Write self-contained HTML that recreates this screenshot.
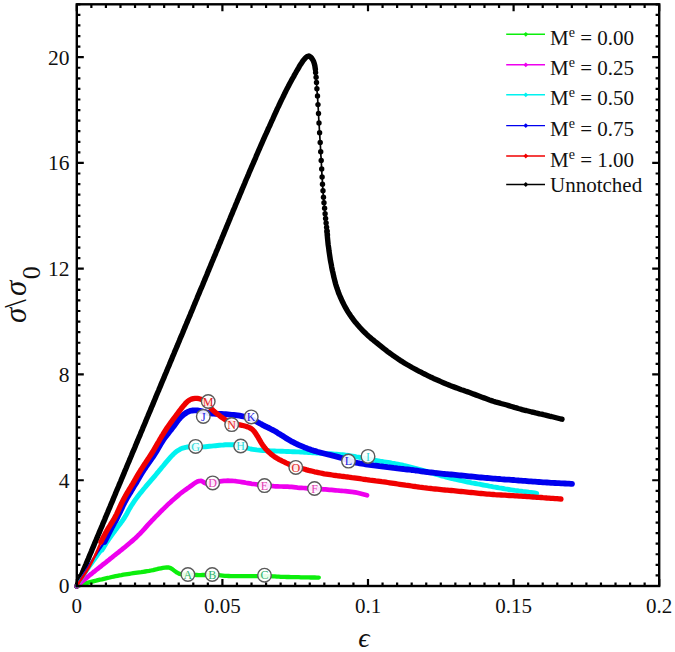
<!DOCTYPE html>
<html><head><meta charset="utf-8"><style>
html,body{margin:0;padding:0;background:#fff;}
body{width:675px;height:652px;overflow:hidden;font-family:"Liberation Serif",serif;}
svg{display:block;}
</style></head><body>
<svg width="675" height="652" viewBox="0 0 675 652">
<rect width="675" height="652" fill="#fff"/>
<path d="M76.8 586.2L77.6 584.4 78.3 582.5 79.1 580.7 79.9 578.8 80.7 577.0 81.4 575.1 82.2 573.3 83.0 571.4 83.7 569.6 84.5 567.7 85.3 565.9 86.1 564.0 86.8 562.2 87.6 560.3 88.4 558.5 89.1 556.7 89.9 554.8 90.7 553.0 91.5 551.1 92.2 549.3 93.0 547.4 93.8 545.6 94.5 543.7 95.3 541.9 96.1 540.0 96.9 538.2 97.6 536.3 98.4 534.5 99.2 532.7 99.9 530.8 100.7 529.0 101.5 527.1 102.3 525.3 103.0 523.4 103.8 521.6 104.6 519.7 105.3 517.9 106.1 516.0 106.9 514.2 107.7 512.3 108.4 510.5 109.2 508.6 110.0 506.8 110.7 505.0 111.5 503.1 112.3 501.3 113.1 499.4 113.8 497.6 114.6 495.7 115.4 493.9 116.1 492.0 116.9 490.2 117.7 488.3 118.5 486.5 119.2 484.6 120.0 482.8 120.8 481.0 121.5 479.1 122.3 477.3 123.1 475.4 123.9 473.6 124.6 471.7 125.4 469.9 126.2 468.0 126.9 466.2 127.7 464.3 128.5 462.5 129.3 460.6 130.0 458.8 130.8 457.0 131.6 455.1 132.3 453.3 133.1 451.4 133.9 449.6 134.7 447.7 135.4 445.9 136.2 444.0 137.0 442.2 137.7 440.3 138.5 438.5 139.3 436.6 140.1 434.8 140.8 432.9 141.6 431.1 142.4 429.3 143.1 427.4 143.9 425.6 144.7 423.7 145.5 421.9 146.2 420.0 147.0 418.2 147.8 416.3 148.5 414.5 149.3 412.6 150.1 410.8 150.9 408.9 151.6 407.1 152.4 405.3 153.2 403.4 153.9 401.6 154.7 399.7 155.5 397.9 156.2 396.0 157.0 394.2 157.8 392.3 158.6 390.5 159.3 388.6 160.1 386.8 160.9 384.9 161.6 383.1 162.4 381.2 163.2 379.4 164.0 377.6 164.7 375.7 165.5 373.9 166.3 372.0 167.0 370.2 167.8 368.3 168.6 366.5 169.4 364.6 170.1 362.8 170.9 360.9 171.7 359.1 172.4 357.2 173.2 355.4 174.0 353.5 174.7 351.7 175.5 349.9 176.3 348.0 177.1 346.2 177.8 344.3 178.6 342.5 179.4 340.6 180.1 338.8 180.9 336.9 181.7 335.1 182.5 333.2 183.2 331.4 184.0 329.5 184.8 327.7 185.5 325.8 186.3 324.0 187.1 322.2 187.8 320.3 188.6 318.5 189.4 316.6 190.2 314.8 190.9 312.9 191.7 311.1 192.5 309.2 193.2 307.4 194.0 305.5 194.8 303.7 195.5 301.8 196.3 300.0 197.1 298.1 197.8 296.3 198.6 294.4 199.4 292.6 200.1 290.7 200.9 288.9 201.7 287.1 202.5 285.2 203.2 283.4 204.0 281.5 204.8 279.7 205.5 277.8 206.3 276.0 207.1 274.1 207.8 272.3 208.6 270.4 209.3 268.6 210.1 266.7 210.9 264.9 211.6 263.0 212.4 261.2 213.2 259.3 213.9 257.5 214.7 255.6 215.5 253.8 216.2 251.9 217.0 250.1 217.8 248.2 218.5 246.4 219.3 244.5 220.1 242.7 220.8 240.8 221.6 239.0 222.3 237.1 223.1 235.3 223.9 233.4 224.6 231.6 225.4 229.7 226.2 227.9 226.9 226.0 227.7 224.2 228.5 222.3 229.2 220.5 230.0 218.6 230.7 216.8 231.5 214.9 232.3 213.1 233.0 211.2 233.8 209.4 234.6 207.5 235.3 205.7 236.1 203.8 236.9 202.0 237.6 200.1 238.4 198.3 239.2 196.4 239.9 194.6 240.7 192.8 241.5 190.9 242.2 189.1 243.0 187.2 243.8 185.4 244.6 183.5 245.3 181.7 246.1 179.8 246.9 178.0 247.7 176.1 248.5 174.3 249.2 172.5 250.0 170.6 250.8 168.8 251.6 166.9 252.4 165.1 253.2 163.3 254.0 161.4 254.8 159.6 255.6 157.8 256.3 155.9 257.1 154.1 257.9 152.2 258.7 150.4 259.5 148.6 260.3 146.7 261.1 144.9 261.9 143.1 262.7 141.2 263.5 139.4 264.3 137.6 265.1 135.7 266.0 133.9 266.8 132.1 267.6 130.3 268.4 128.4 269.3 126.6 270.1 124.8 270.9 123.0 271.7 121.2 272.6 119.3 273.4 117.5 274.2 115.7 275.0 113.9 275.9 112.0 276.7 110.2 277.5 108.4 278.4 106.6 279.2 104.8 280.1 103.0 280.9 101.2 281.8 99.4 282.7 97.6 283.6 95.8 284.4 94.0 285.3 92.2 286.2 90.4 287.1 88.6 288.1 86.8 289.0 85.0 289.9 83.3 290.9 81.5 291.8 79.8 292.8 78.0 293.8 76.3 294.7 74.5 295.7 72.8 296.7 71.0 297.7 69.3 298.7 67.6 299.7 65.8 300.8 64.1 301.9 62.5 303.0 60.8 304.3 59.3 305.6 57.8 307.1 56.5 308.8 56.0 310.4 56.8 311.7 58.2 312.8 59.9 313.7 61.7 314.3 63.6 314.8 65.5 315.1 67.5 315.4 69.5" fill="none" stroke="#000" stroke-width="5.4" stroke-linecap="round" stroke-linejoin="round" />
<path d="M315.4 69.5L315.5 71.5 315.7 73.5 315.9 75.5 316.1 77.5 316.3 79.5 316.4 81.5 316.6 83.5 316.7 85.5 316.8 87.5 317.0 89.6 317.1 91.6 317.3 93.6 317.5 95.6 317.6 97.6 317.7 99.6 317.8 101.6 317.9 103.6 318.1 105.6 318.2 107.6 318.3 109.6 318.4 111.6 318.5 113.6 318.6 115.7 318.7 117.7 318.8 119.7 318.9 121.7 319.0 123.7 319.2 125.7 319.3 127.7 319.4 129.7 319.5 131.7 319.7 133.7 319.8 135.7 319.9 137.7 320.0 139.8 320.2 141.8 320.3 143.8 320.4 145.8 320.5 147.8 320.6 149.8 320.7 151.8 320.8 153.8 320.9 155.8 321.1 157.8 321.2 159.8 321.3 161.9 321.4 163.9 321.5 165.9 321.6 167.9 321.7 169.9 321.8 171.9 321.9 173.9 322.0 175.9 322.1 177.9 322.3 179.9 322.4 181.9 322.5 183.9 322.6 186.0 322.8 188.0 322.9 190.0 323.1 192.0 323.2 194.0 323.4 196.0 323.6 198.0 323.7 200.0 323.9 202.0 324.1 204.0 324.4 206.0 324.6 208.0 324.8 210.0 324.9 212.0 325.1 214.0 325.3 216.0 325.6 218.0 325.8 220.0 326.0 222.0 326.2 224.0 326.5 226.0 326.7 228.0 326.9 230.0 327.1 232.0 327.4 234.0 327.5 235.0" fill="none" stroke="#000" stroke-width="1.7" stroke-linecap="round" stroke-linejoin="round" />
<circle cx="315.6" cy="72.6" r="2.7" fill="#000"/>
<circle cx="316.1" cy="77.2" r="2.7" fill="#000"/>
<circle cx="316.5" cy="82.5" r="2.7" fill="#000"/>
<circle cx="316.9" cy="88.7" r="2.7" fill="#000"/>
<circle cx="317.5" cy="96.0" r="2.7" fill="#000"/>
<circle cx="318.0" cy="104.6" r="2.7" fill="#000"/>
<circle cx="318.5" cy="113.4" r="2.7" fill="#000"/>
<circle cx="319.0" cy="123.0" r="2.7" fill="#000"/>
<circle cx="319.6" cy="132.7" r="2.7" fill="#000"/>
<circle cx="320.2" cy="142.5" r="2.7" fill="#000"/>
<circle cx="320.7" cy="151.7" r="2.7" fill="#000"/>
<circle cx="321.2" cy="160.4" r="2.7" fill="#000"/>
<circle cx="321.7" cy="169.0" r="2.7" fill="#000"/>
<circle cx="322.1" cy="177.0" r="2.7" fill="#000"/>
<circle cx="322.5" cy="184.3" r="2.7" fill="#000"/>
<circle cx="323.0" cy="190.8" r="2.7" fill="#000"/>
<circle cx="323.5" cy="197.2" r="2.7" fill="#000"/>
<circle cx="324.0" cy="202.7" r="2.7" fill="#000"/>
<circle cx="324.6" cy="208.3" r="2.7" fill="#000"/>
<circle cx="325.1" cy="213.8" r="2.7" fill="#000"/>
<circle cx="325.6" cy="218.4" r="2.7" fill="#000"/>
<circle cx="326.1" cy="223.0" r="2.7" fill="#000"/>
<circle cx="326.6" cy="227.2" r="2.7" fill="#000"/>
<circle cx="327.0" cy="231.0" r="2.7" fill="#000"/>
<circle cx="327.5" cy="235.0" r="2.7" fill="#000"/>
<path d="M327.0 231.0L327.1 233.0 327.3 235.0 327.4 237.0 327.6 239.0 327.8 241.0 328.0 243.0 328.2 244.9 328.5 246.9 328.8 248.9 329.0 250.9 329.3 252.9 329.6 254.9 329.9 256.8 330.2 258.8 330.5 260.8 330.9 262.8 331.3 264.7 331.6 266.7 332.0 268.6 332.4 270.6 332.9 272.6 333.3 274.5 333.7 276.5 334.2 278.4 334.7 280.4 335.2 282.3 335.7 284.2 336.3 286.1 336.9 288.0 337.6 289.9 338.2 291.8 338.9 293.7 339.7 295.5 340.5 297.4 341.3 299.2 342.1 301.0 343.0 302.8 343.9 304.6 344.8 306.4 345.8 308.1 346.8 309.9 347.8 311.6 348.9 313.3 350.0 314.9 351.1 316.6 352.3 318.2 353.5 319.8 354.7 321.4 356.0 322.9 357.3 324.5 358.6 326.0 359.9 327.5 361.3 329.0 362.6 330.4 364.0 331.8 365.5 333.2 366.9 334.6 368.4 336.0 369.9 337.3 371.4 338.6 373.0 339.8 374.5 341.1 376.1 342.3 377.7 343.6 379.2 344.8 380.8 346.1 382.3 347.3 383.9 348.6 385.5 349.8 387.0 351.1 388.6 352.3 390.3 353.5 391.9 354.6 393.5 355.8 395.2 356.9 396.8 358.1 398.5 359.2 400.1 360.3 401.8 361.3 403.5 362.4 405.2 363.5 406.9 364.5 408.7 365.5 410.4 366.5 412.1 367.5 413.9 368.5 415.6 369.4 417.4 370.4 419.2 371.3 421.0 372.2 422.7 373.1 424.5 374.0 426.3 374.9 428.1 375.8 429.9 376.7 431.7 377.5 433.5 378.4 435.4 379.2 437.2 380.0 439.0 380.8 440.8 381.6 442.7 382.4 444.5 383.2 446.4 384.0 448.2 384.7 450.1 385.5 451.9 386.2 453.8 386.9 455.7 387.6 457.6 388.3 459.4 389.0 461.3 389.7 463.2 390.3 465.1 391.0 467.0 391.6 468.9 392.3 470.8 393.0 472.6 393.7 474.5 394.4 476.4 395.1 478.2 395.8 480.1 396.5 482.0 397.2 483.9 397.9 485.7 398.6 487.6 399.3 489.5 400.0 491.4 400.6 493.3 401.3 495.2 401.9 497.1 402.4 499.1 402.9 501.0 403.5 502.9 404.0 504.9 404.5 506.8 405.0 508.7 405.6 510.6 406.2 512.5 406.8 514.4 407.4 516.4 407.9 518.3 408.5 520.2 409.0 522.1 409.6 524.1 410.1 526.0 410.5 528.0 411.0 529.9 411.5 531.8 412.0 533.8 412.4 535.7 412.9 537.7 413.3 539.6 413.8 541.6 414.2 543.5 414.7 545.5 415.1 547.4 415.6 549.4 416.1 551.3 416.5 553.3 417.0 555.2 417.5 557.1 418.0 559.1 418.5 561.0 419.0 562.0 419.2" fill="none" stroke="#000" stroke-width="5.4" stroke-linecap="round" stroke-linejoin="round" />
<path d="M76.8 586.2L78.7 585.6 80.6 584.9 82.5 584.3 84.4 583.7 86.3 583.1 88.3 582.6 90.2 582.1 92.1 581.6 94.1 581.1 96.0 580.7 98.0 580.2 99.9 579.7 101.9 579.3 103.8 578.8 105.8 578.3 107.7 577.9 109.7 577.5 111.6 577.0 113.6 576.6 115.5 576.2 117.5 575.8 119.5 575.4 121.5 575.1 123.4 574.7 125.4 574.4 127.4 574.1 129.4 573.8 131.3 573.5 133.3 573.2 135.3 572.9 137.3 572.6 139.3 572.3 141.2 572.1 143.2 571.8 145.2 571.5 147.2 571.2 149.2 570.9 151.1 570.5 153.1 570.1 155.0 569.6 157.0 569.2 158.9 568.7 160.9 568.3 162.9 567.9 164.8 567.6 166.8 567.4 168.8 567.5 170.6 568.1 172.3 569.1 173.9 570.4 175.5 571.6 177.1 572.7 178.9 573.6 180.8 574.2 182.7 574.5 184.7 574.6 186.7 574.6 188.7 574.6 190.7 574.7 192.7 574.8 194.7 574.9 196.7 575.0 198.7 575.1 200.7 575.1 202.7 575.0 204.7 575.0 206.8 574.9 208.8 574.8 210.8 574.8 212.8 574.8 214.8 574.9 216.8 575.1 218.7 575.2 220.7 575.4 222.7 575.6 224.7 575.8 226.7 575.9 228.7 576.0 230.7 576.1 232.7 576.2 234.7 576.2 236.7 576.2 238.7 576.2 240.7 576.2 242.7 576.2 244.7 576.2 246.7 576.2 248.7 576.2 250.7 576.1 252.8 576.1 254.8 576.1 256.8 576.1 258.8 576.0 260.8 576.0 262.8 576.0 264.8 576.0 266.8 576.1 268.8 576.1 270.8 576.2 272.8 576.3 274.8 576.4 276.8 576.6 278.8 576.7 280.8 576.8 282.8 576.8 284.8 576.9 286.8 577.0 288.8 577.0 290.8 577.1 292.8 577.1 294.8 577.2 296.8 577.2 298.8 577.2 300.8 577.3 302.8 577.3 304.8 577.4 306.8 577.4 308.8 577.4 310.8 577.5 312.8 577.5 314.8 577.5 316.8 577.6 318.8 577.6" fill="none" stroke="#0cee0c" stroke-width="4.3" stroke-linecap="round" stroke-linejoin="round" />
<path d="M76.8 586.2L78.3 584.9 79.8 583.6 81.3 582.3 82.8 580.9 84.4 579.6 85.9 578.3 87.4 577.1 89.0 575.8 90.5 574.5 92.1 573.3 93.6 572.0 95.2 570.8 96.8 569.5 98.3 568.3 99.9 567.0 101.5 565.8 103.0 564.5 104.6 563.3 106.2 562.1 107.7 560.8 109.3 559.6 110.8 558.3 112.4 557.1 114.0 555.8 115.5 554.6 117.1 553.3 118.7 552.1 120.2 550.8 121.8 549.6 123.3 548.3 124.9 547.1 126.5 545.8 128.0 544.5 129.5 543.2 131.1 541.9 132.6 540.6 134.1 539.3 135.6 538.0 137.0 536.6 138.4 535.2 139.8 533.8 141.2 532.3 142.6 530.9 144.0 529.4 145.3 527.9 146.6 526.4 147.9 524.9 149.3 523.4 150.7 522.0 152.0 520.5 153.4 519.1 154.8 517.6 156.2 516.2 157.6 514.8 159.0 513.4 160.4 511.9 161.8 510.5 163.2 509.1 164.7 507.7 166.1 506.3 167.5 504.9 169.0 503.5 170.5 502.2 172.0 500.8 173.5 499.5 175.0 498.2 176.5 496.9 178.0 495.6 179.5 494.3 181.1 493.0 182.6 491.8 184.3 490.6 185.9 489.5 187.5 488.3 189.2 487.2 190.8 486.0 192.4 484.8 194.0 483.6 195.7 482.5 197.4 481.6 199.3 481.0 201.2 480.9 202.9 481.7 204.5 482.8 206.3 483.5 208.2 483.6 210.2 483.2 212.1 482.8 214.0 482.3 216.0 482.0 218.0 481.6 220.0 481.3 221.9 481.1 223.9 480.9 225.9 480.8 227.9 480.7 229.9 480.8 231.9 480.8 233.9 481.0 235.9 481.2 237.9 481.5 239.9 481.8 241.9 482.1 243.8 482.4 245.8 482.8 247.8 483.1 249.7 483.4 251.7 483.8 253.7 484.0 255.7 484.3 257.7 484.6 259.6 484.8 261.6 485.1 263.6 485.3 265.6 485.5 267.6 485.7 269.6 485.9 271.6 486.0 273.6 486.2 275.6 486.3 277.6 486.4 279.6 486.5 281.6 486.5 283.6 486.6 285.6 486.6 287.6 486.7 289.6 486.8 291.6 486.9 293.6 487.1 295.6 487.3 297.5 487.6 299.5 487.8 301.5 487.9 303.5 488.0 305.5 488.1 307.5 488.3 309.5 488.4 311.5 488.5 313.5 488.6 315.5 488.7 317.5 488.9 319.5 489.0 321.5 489.1 323.5 489.3 325.5 489.4 327.5 489.6 329.5 489.8 331.5 489.9 333.5 490.1 335.5 490.3 337.5 490.5 339.4 490.7 341.4 490.8 343.4 491.0 345.4 491.2 347.4 491.4 349.4 491.6 351.4 491.8 353.4 492.1 355.4 492.4 357.3 492.8 359.3 493.3 361.2 493.8 363.1 494.3 365.1 494.8 367.0 495.3" fill="none" stroke="#ee00ee" stroke-width="4.7" stroke-linecap="round" stroke-linejoin="round" />
<path d="M76.8 586.2L77.9 584.5 79.0 582.8 80.1 581.2 81.2 579.5 82.3 577.8 83.4 576.1 84.5 574.5 85.6 572.8 86.8 571.2 87.9 569.5 89.1 567.9 90.2 566.2 91.4 564.6 92.5 563.0 93.7 561.3 94.9 559.7 96.1 558.1 97.2 556.5 98.4 554.8 99.6 553.2 100.8 551.6 102.0 550.0" fill="none" stroke="#00f2f0" stroke-width="3.4" stroke-linecap="round" stroke-linejoin="round" />
<path d="M102.0 550.0L103.0 548.3 104.1 546.6 105.1 544.9 106.1 543.2 107.2 541.5 108.4 539.8 109.5 538.2 110.7 536.6 111.9 534.9 113.0 533.3 114.2 531.7 115.4 530.1 116.6 528.5 117.8 526.9 119.0 525.3 120.2 523.7 121.4 522.1 122.6 520.5 123.7 518.8 124.8 517.1 125.8 515.4 126.8 513.7 127.8 511.9 128.7 510.2 129.7 508.4 130.7 506.7 131.8 505.0 132.9 503.3 134.0 501.7 135.1 500.0 136.3 498.4 137.5 496.8 138.7 495.2 139.9 493.6 141.2 492.1 142.5 490.5 143.7 489.0 145.0 487.5 146.3 485.9 147.6 484.4 148.9 482.9 150.2 481.4 151.5 479.8 152.8 478.3 154.1 476.8 155.4 475.3 156.7 473.7 158.0 472.2 159.2 470.6 160.5 469.1 161.8 467.5 163.1 466.0 164.3 464.5 165.6 462.9 166.9 461.4 168.2 459.9 169.5 458.4 170.8 456.9 172.2 455.4 173.6 454.0 175.1 452.7 176.6 451.4 178.3 450.3 180.0 449.3 181.8 448.4 183.7 447.8 185.6 447.3 187.5 447.0 189.5 446.8 191.5 446.8 193.5 446.8 195.5 446.8 197.5 446.9 199.5 446.9 201.5 446.9 203.5 446.9 205.5 446.7 207.5 446.5 209.5 446.3 211.5 446.1 213.5 445.9 215.5 445.7 217.4 445.5 219.4 445.3 221.4 445.1 223.4 445.0 225.4 444.8 227.4 444.7 229.4 444.7 231.4 444.7 233.4 444.7 235.4 444.9 237.4 445.1 239.4 445.4 241.3 445.9 243.2 446.5 245.0 447.2 246.9 447.9 248.8 448.5 250.7 449.0 252.7 449.3 254.7 449.6 256.7 449.9 258.7 450.1 260.6 450.3 262.6 450.5 264.6 450.6 266.6 450.7 268.6 450.8 270.6 450.9 272.6 450.9 274.6 451.0 276.6 451.1 278.6 451.1 280.6 451.2 282.6 451.3 284.6 451.4 286.6 451.5 288.6 451.5 290.6 451.6 292.6 451.7 294.6 451.8 296.6 451.9 298.6 451.9 300.6 452.0 302.6 452.1 304.6 452.3 306.6 452.4 308.6 452.5 310.6 452.6 312.6 452.7 314.6 452.9 316.6 453.0 318.6 453.1 320.6 453.2 322.6 453.4 324.6 453.5 326.6 453.6 328.6 453.7 330.6 453.8 332.6 453.9 334.6 454.1 336.6 454.2 338.6 454.4 340.6 454.6 342.6 454.8 344.6 455.0 346.5 455.3 348.5 455.5 350.5 455.8 352.5 456.1 354.5 456.4 356.4 456.8 358.4 457.1 360.4 457.5 362.3 457.8 364.3 458.2 366.3 458.6 368.2 459.0 370.2 459.4 372.2 459.8 374.1 460.1 376.1 460.5 378.1 460.8 380.0 461.2 382.0 461.5 384.0 461.8 386.0 462.1 388.0 462.4 389.9 462.7 391.9 463.1 393.9 463.4 395.8 463.8 397.8 464.2 399.8 464.6 401.7 465.0 403.7 465.5 405.6 465.9 407.6 466.4 409.5 466.9 411.4 467.4 413.4 467.9 415.3 468.4 417.3 468.9 419.2 469.4 421.1 469.9 423.0 470.5 425.0 471.0 426.9 471.5 428.8 472.1 430.7 472.7 432.7 473.2 434.6 473.8 436.5 474.4 438.4 474.9 440.3 475.5 442.3 476.0 444.2 476.5 446.1 477.1 448.1 477.6 450.0 478.0 452.0 478.5 453.9 479.0 455.9 479.4 457.8 479.9 459.8 480.3 461.7 480.7 463.7 481.2 465.6 481.6 467.6 482.0 469.6 482.4 471.5 482.8 473.5 483.1 475.4 483.5 477.4 483.9 479.4 484.2 481.4 484.6 483.3 485.0 485.3 485.3 487.3 485.7 489.2 486.1 491.2 486.4 493.2 486.8 495.1 487.1 497.1 487.5 499.1 487.9 501.0 488.2 503.0 488.5 505.0 488.9 507.0 489.2 508.9 489.5 510.9 489.8 512.9 490.1 514.9 490.4 516.9 490.6 518.8 490.9 520.8 491.1 522.8 491.4 524.8 491.6 526.8 491.9 528.8 492.2 530.8 492.4 532.7 492.7 534.7 493.0 536.7 493.3" fill="none" stroke="#00f2f0" stroke-width="4.9" stroke-linecap="round" stroke-linejoin="round" />
<path d="M76.8 586.2L77.8 584.5 78.8 582.7 79.9 581.0 80.9 579.3 81.9 577.5 82.9 575.8 83.9 574.1 84.9 572.4 86.0 570.6 87.0 568.9 88.0 567.2 89.1 565.5 90.1 563.8 91.2 562.1 92.3 560.4 93.4 558.7 94.5 557.0 95.6 555.4 96.7 553.7 97.8 552.0 98.9 550.3 100.0 548.7 101.2 547.0 102.3 545.3 103.4 543.7 104.5 542.0" fill="none" stroke="#0000ee" stroke-width="2.2" stroke-linecap="round" stroke-linejoin="round" />
<path d="M104.5 542.0L105.4 540.2 106.3 538.4 107.2 536.6 108.1 534.8 109.0 533.0 109.9 531.2 110.8 529.5 111.7 527.7 112.7 525.9 113.6 524.2 114.6 522.4 115.6 520.7 116.5 518.9 117.4 517.1 118.3 515.3 119.2 513.5 120.1 511.7 120.9 509.9 121.8 508.1 122.6 506.3 123.5 504.5 124.4 502.7 125.4 500.9 126.3 499.2 127.3 497.4 128.3 495.7 129.3 494.0 130.4 492.3 131.4 490.5 132.5 488.8 133.5 487.1 134.5 485.4 135.6 483.7 136.6 482.0 137.6 480.2 138.6 478.5 139.6 476.8 140.6 475.1 141.7 473.3 142.7 471.6 143.8 469.9 144.9 468.3 146.0 466.6 147.2 465.0 148.3 463.3 149.5 461.7 150.6 460.1 151.8 458.4 152.9 456.8 154.0 455.1 155.1 453.4 156.2 451.7 157.2 450.0 158.2 448.3 159.2 446.6 160.2 444.8 161.2 443.1 162.3 441.4 163.4 439.7 164.5 438.1 165.7 436.5 166.9 434.9 168.2 433.3 169.4 431.7 170.7 430.2 171.9 428.6 173.1 427.0 174.3 425.4 175.5 423.8 176.7 422.1 177.9 420.5 179.1 419.0 180.4 417.5 181.9 416.1 183.4 414.8 185.0 413.6 186.6 412.5 188.4 411.6 190.2 410.9 192.2 410.5 194.1 410.3 196.1 410.3 198.1 410.5 200.0 410.9 202.0 411.3 203.9 411.9 205.8 412.4 207.8 412.8 209.7 413.2 211.7 413.5 213.7 413.7 215.7 413.9 217.7 413.9 219.7 414.0 221.7 414.0 223.7 414.1 225.7 414.2 227.7 414.4 229.7 414.6 231.7 414.8 233.7 415.0 235.7 415.2 237.6 415.4 239.6 415.7 241.6 416.1 243.6 416.5 245.5 416.9 247.4 417.4 249.3 418.0 251.2 418.8 253.0 419.6 254.8 420.5 256.5 421.5 258.2 422.5 260.0 423.5 261.8 424.4 263.5 425.4 265.3 426.3 267.1 427.2 268.9 428.0 270.7 429.0 272.5 429.9 274.2 430.8 276.0 431.8 277.7 432.9 279.4 433.9 281.1 435.0 282.8 436.0 284.5 437.1 286.2 438.2 287.9 439.3 289.6 440.3 291.3 441.3 293.1 442.2 294.9 443.1 296.7 444.0 298.5 444.8 300.3 445.6 302.2 446.4 304.0 447.2 305.9 447.9 307.7 448.7 309.6 449.3 311.5 450.0 313.4 450.6 315.4 451.1 317.3 451.7 319.2 452.2 321.2 452.7 323.1 453.2 325.0 453.7 327.0 454.2 328.9 454.7 330.9 455.1 332.8 455.6 334.8 456.1 336.7 456.6 338.6 457.1 340.6 457.7 342.5 458.3 344.3 459.0 346.2 459.6 348.1 460.3 350.0 461.0 351.9 461.6 353.8 462.1 355.8 462.6 357.7 463.0 359.7 463.4 361.7 463.7 363.7 464.0 365.6 464.3 367.6 464.6 369.6 464.8 371.6 465.1 373.6 465.4 375.6 465.6 377.6 465.9 379.5 466.2 381.5 466.4 383.5 466.7 385.5 466.9 387.5 467.2 389.5 467.4 391.5 467.6 393.5 467.9 395.5 468.1 397.4 468.4 399.4 468.6 401.4 468.8 403.4 469.0 405.4 469.3 407.4 469.5 409.4 469.7 411.4 470.0 413.4 470.2 415.3 470.5 417.3 470.7 419.3 471.0 421.3 471.3 423.3 471.5 425.3 471.8 427.3 472.0 429.3 472.3 431.2 472.5 433.2 472.7 435.2 473.0 437.2 473.2 439.2 473.4 441.2 473.6 443.2 473.8 445.2 474.0 447.2 474.1 449.2 474.3 451.2 474.5 453.2 474.7 455.2 474.9 457.2 475.1 459.2 475.3 461.1 475.5 463.1 475.7 465.1 475.9 467.1 476.1 469.1 476.3 471.1 476.5 473.1 476.7 475.1 476.9 477.1 477.1 479.1 477.3 481.1 477.5 483.1 477.7 485.1 477.9 487.1 478.0 489.1 478.2 491.1 478.4 493.1 478.6 495.1 478.7 497.0 478.9 499.0 479.0 501.0 479.2 503.0 479.3 505.0 479.5 507.0 479.6 509.0 479.7 511.0 479.9 513.0 480.0 515.0 480.2 517.0 480.3 519.0 480.5 521.0 480.6 523.0 480.8 525.0 480.9 527.0 481.1 529.0 481.3 531.0 481.4 533.0 481.6 535.0 481.7 537.0 481.9 539.0 482.0 541.0 482.1 543.0 482.3 545.0 482.4 547.0 482.5 549.0 482.6 551.0 482.8 553.0 482.9 555.0 483.0 557.0 483.1 559.0 483.2 561.0 483.3 563.0 483.4 565.0 483.5 567.0 483.6 569.0 483.7 571.0 483.8 572.0 483.9" fill="none" stroke="#0000ee" stroke-width="5.8" stroke-linecap="round" stroke-linejoin="round" />
<path d="M76.8 586.2L77.9 584.5 79.0 582.8 80.1 581.1 81.2 579.5 82.4 577.8 83.5 576.1 84.6 574.4 85.7 572.7 86.8 571.0 87.8 569.3 88.9 567.6 89.9 565.8 90.9 564.0 91.8 562.2 92.7 560.4 93.5 558.6 94.4 556.8 95.2 554.9 96.1 553.1 96.9 551.3 97.7 549.4 98.5 547.6 99.3 545.7 100.1 543.9 100.9 542.0" fill="none" stroke="#f00000" stroke-width="2.5" stroke-linecap="round" stroke-linejoin="round" />
<path d="M100.9 542.0L101.8 540.2 102.7 538.4 103.7 536.7 104.6 534.9 105.5 533.1 106.5 531.4 107.5 529.6 108.5 527.9 109.6 526.2 110.6 524.5 111.7 522.8 112.7 521.1 113.8 519.4 114.7 517.7 115.7 515.9 116.6 514.1 117.4 512.3 118.3 510.5 119.1 508.6 119.9 506.8 120.8 505.0 121.6 503.2 122.5 501.4 123.4 499.6 124.4 497.9 125.3 496.1 126.3 494.4 127.3 492.7 128.4 490.9 129.4 489.2 130.4 487.5 131.4 485.8 132.5 484.1 133.5 482.3 134.5 480.6 135.5 478.9 136.5 477.1 137.5 475.4 138.5 473.7 139.6 472.0 140.6 470.3 141.7 468.6 142.8 466.9 143.9 465.2 145.0 463.6 146.1 461.9 147.2 460.2 148.3 458.6 149.4 456.9 150.5 455.2 151.6 453.5 152.7 451.8 153.7 450.1 154.7 448.4 155.7 446.7 156.7 444.9 157.7 443.2 158.7 441.5 159.7 439.7 160.7 438.0 161.7 436.3 162.8 434.6 163.8 432.9 164.9 431.2 166.0 429.5 167.1 427.8 168.2 426.2 169.4 424.5 170.5 422.9 171.7 421.3 172.9 419.7 174.1 418.1 175.3 416.5 176.5 414.9 177.7 413.3 178.9 411.7 180.1 410.1 181.3 408.5 182.6 406.9 183.8 405.4 185.1 403.9 186.5 402.4 188.0 401.1 189.6 400.0 191.4 399.1 193.3 398.6 195.2 398.3 197.2 398.4 199.1 398.7 201.0 399.2 202.9 399.9 204.6 400.9 206.2 402.0 207.6 403.4 208.8 405.0 209.9 406.6 211.0 408.3 212.3 409.7 213.8 411.1 215.3 412.4 216.9 413.6 218.5 414.8 220.1 416.1 221.7 417.3 223.3 418.4 225.0 419.5 226.7 420.5 228.4 421.5 230.2 422.3 232.1 423.1 234.0 423.6 235.9 424.1 237.9 424.5 239.9 424.9 241.8 425.3 243.8 425.8 245.7 426.3 247.6 426.9 249.4 427.6 251.2 428.6 252.7 429.8 254.0 431.2 255.2 432.8 256.3 434.5 257.4 436.2 258.4 437.9 259.4 439.7 260.4 441.4 261.4 443.1 262.5 444.8 263.7 446.4 264.9 448.0 266.2 449.5 267.6 450.9 269.0 452.3 270.5 453.6 272.1 454.9 273.7 456.1 275.3 457.2 277.0 458.3 278.7 459.3 280.5 460.2 282.3 461.1 284.1 461.9 285.9 462.8 287.7 463.6 289.6 464.5 291.4 465.2 293.3 466.0 295.1 466.7 297.0 467.3 299.0 467.8 300.9 468.3 302.8 468.8 304.8 469.3 306.7 469.9 308.6 470.4 310.6 470.8 312.5 471.3 314.5 471.8 316.4 472.2 318.4 472.6 320.4 473.0 322.3 473.4 324.3 473.8 326.3 474.1 328.2 474.4 330.2 474.7 332.2 475.0 334.2 475.3 336.2 475.5 338.1 475.8 340.1 476.0 342.1 476.3 344.1 476.5 346.1 476.8 348.1 477.0 350.1 477.3 352.0 477.6 354.0 477.8 356.0 478.1 358.0 478.4 360.0 478.7 362.0 479.0 363.9 479.3 365.9 479.5 367.9 479.8 369.9 480.1 371.9 480.3 373.9 480.6 375.8 480.9 377.8 481.1 379.8 481.4 381.8 481.7 383.8 481.9 385.8 482.2 387.7 482.5 389.7 482.8 391.7 483.1 393.7 483.4 395.7 483.7 397.6 484.0 399.6 484.3 401.6 484.6 403.6 484.9 405.5 485.2 407.5 485.4 409.5 485.7 411.5 486.0 413.5 486.3 415.5 486.5 417.4 486.8 419.4 487.1 421.4 487.3 423.4 487.6 425.4 487.8 427.4 488.1 429.4 488.3 431.3 488.5 433.3 488.8 435.3 489.0 437.3 489.2 439.3 489.4 441.3 489.6 443.3 489.8 445.3 490.0 447.3 490.1 449.3 490.3 451.3 490.5 453.3 490.7 455.2 490.9 457.2 491.1 459.2 491.3 461.2 491.5 463.2 491.7 465.2 491.9 467.2 492.1 469.2 492.3 471.2 492.5 473.2 492.7 475.2 492.9 477.1 493.1 479.1 493.3 481.1 493.5 483.1 493.7 485.1 493.9 487.1 494.1 489.1 494.2 491.1 494.4 493.1 494.5 495.1 494.7 497.1 494.8 499.1 494.9 501.1 495.0 503.1 495.1 505.1 495.2 507.1 495.4 509.1 495.5 511.1 495.6 513.1 495.7 515.1 495.8 517.1 495.9 519.1 496.1 521.1 496.2 523.1 496.3 525.1 496.4 527.1 496.6 529.1 496.7 531.1 496.9 533.1 497.0 535.0 497.1 537.0 497.3 539.0 497.4 541.0 497.5 543.0 497.7 545.0 497.8 547.0 498.0 549.0 498.1 551.0 498.3 553.0 498.4 555.0 498.6 557.0 498.7 559.0 498.9 561.0 499.0" fill="none" stroke="#f00000" stroke-width="5.3" stroke-linecap="round" stroke-linejoin="round" />
<circle cx="187.9" cy="574.5" r="6.8" fill="#fff" fill-opacity="0.9" stroke="#5a5a5a" stroke-width="1.4"/>
<text x="187.9" y="578.6" font-family="Liberation Serif, serif" font-size="12" fill="#30b070" text-anchor="middle">A</text>
<circle cx="212.2" cy="574.5" r="6.8" fill="#fff" fill-opacity="0.9" stroke="#5a5a5a" stroke-width="1.4"/>
<text x="212.2" y="578.6" font-family="Liberation Serif, serif" font-size="12" fill="#30b070" text-anchor="middle">B</text>
<circle cx="264.5" cy="575.2" r="6.8" fill="#fff" fill-opacity="0.9" stroke="#5a5a5a" stroke-width="1.4"/>
<text x="264.5" y="579.3" font-family="Liberation Serif, serif" font-size="12" fill="#30b070" text-anchor="middle">C</text>
<circle cx="212.7" cy="482.9" r="6.8" fill="#fff" fill-opacity="0.9" stroke="#5a5a5a" stroke-width="1.4"/>
<text x="212.7" y="487.0" font-family="Liberation Serif, serif" font-size="12" fill="#e040b0" text-anchor="middle">D</text>
<circle cx="264.5" cy="485.6" r="6.8" fill="#fff" fill-opacity="0.9" stroke="#5a5a5a" stroke-width="1.4"/>
<text x="264.5" y="489.7" font-family="Liberation Serif, serif" font-size="12" fill="#e040b0" text-anchor="middle">E</text>
<circle cx="314.5" cy="488.5" r="6.8" fill="#fff" fill-opacity="0.9" stroke="#5a5a5a" stroke-width="1.4"/>
<text x="314.5" y="492.6" font-family="Liberation Serif, serif" font-size="12" fill="#e040b0" text-anchor="middle">F</text>
<circle cx="195.6" cy="446.4" r="6.8" fill="#fff" fill-opacity="0.9" stroke="#5a5a5a" stroke-width="1.4"/>
<text x="195.6" y="450.5" font-family="Liberation Serif, serif" font-size="12" fill="#30d8d8" text-anchor="middle">G</text>
<circle cx="240.7" cy="446.0" r="6.8" fill="#fff" fill-opacity="0.9" stroke="#5a5a5a" stroke-width="1.4"/>
<text x="240.7" y="450.1" font-family="Liberation Serif, serif" font-size="12" fill="#30d8d8" text-anchor="middle">H</text>
<circle cx="368.0" cy="456.4" r="6.8" fill="#fff" fill-opacity="0.9" stroke="#5a5a5a" stroke-width="1.4"/>
<text x="368.0" y="460.5" font-family="Liberation Serif, serif" font-size="12" fill="#30d8d8" text-anchor="middle">I</text>
<circle cx="203.3" cy="416.4" r="6.8" fill="#fff" fill-opacity="0.9" stroke="#5a5a5a" stroke-width="1.4"/>
<text x="203.3" y="420.5" font-family="Liberation Serif, serif" font-size="12" fill="#2020e0" text-anchor="middle">J</text>
<circle cx="251.2" cy="416.9" r="6.8" fill="#fff" fill-opacity="0.9" stroke="#5a5a5a" stroke-width="1.4"/>
<text x="251.2" y="421.0" font-family="Liberation Serif, serif" font-size="12" fill="#2020e0" text-anchor="middle">K</text>
<circle cx="348.5" cy="461.1" r="6.8" fill="#fff" fill-opacity="0.9" stroke="#5a5a5a" stroke-width="1.4"/>
<text x="348.5" y="465.2" font-family="Liberation Serif, serif" font-size="12" fill="#2020e0" text-anchor="middle">L</text>
<circle cx="208.2" cy="401.5" r="6.8" fill="#fff" fill-opacity="0.9" stroke="#5a5a5a" stroke-width="1.4"/>
<text x="208.2" y="405.6" font-family="Liberation Serif, serif" font-size="12" fill="#e02020" text-anchor="middle">M</text>
<circle cx="231.7" cy="424.6" r="6.8" fill="#fff" fill-opacity="0.9" stroke="#5a5a5a" stroke-width="1.4"/>
<text x="231.7" y="428.7" font-family="Liberation Serif, serif" font-size="12" fill="#e02020" text-anchor="middle">N</text>
<circle cx="295.8" cy="467.4" r="6.8" fill="#fff" fill-opacity="0.9" stroke="#5a5a5a" stroke-width="1.4"/>
<text x="295.8" y="471.5" font-family="Liberation Serif, serif" font-size="12" fill="#e02020" text-anchor="middle">O</text>
<path d="M76.80 586.00V579.00 M76.80 4.30V11.30 M91.36 586.00V582.40 M91.36 4.30V7.90 M105.92 586.00V582.40 M105.92 4.30V7.90 M120.48 586.00V582.40 M120.48 4.30V7.90 M135.04 586.00V582.40 M135.04 4.30V7.90 M149.60 586.00V582.40 M149.60 4.30V7.90 M164.16 586.00V582.40 M164.16 4.30V7.90 M178.72 586.00V582.40 M178.72 4.30V7.90 M193.28 586.00V582.40 M193.28 4.30V7.90 M207.84 586.00V582.40 M207.84 4.30V7.90 M222.40 586.00V579.00 M222.40 4.30V11.30 M236.96 586.00V582.40 M236.96 4.30V7.90 M251.52 586.00V582.40 M251.52 4.30V7.90 M266.08 586.00V582.40 M266.08 4.30V7.90 M280.64 586.00V582.40 M280.64 4.30V7.90 M295.20 586.00V582.40 M295.20 4.30V7.90 M309.76 586.00V582.40 M309.76 4.30V7.90 M324.32 586.00V582.40 M324.32 4.30V7.90 M338.88 586.00V582.40 M338.88 4.30V7.90 M353.44 586.00V582.40 M353.44 4.30V7.90 M368.00 586.00V579.00 M368.00 4.30V11.30 M382.56 586.00V582.40 M382.56 4.30V7.90 M397.12 586.00V582.40 M397.12 4.30V7.90 M411.68 586.00V582.40 M411.68 4.30V7.90 M426.24 586.00V582.40 M426.24 4.30V7.90 M440.80 586.00V582.40 M440.80 4.30V7.90 M455.36 586.00V582.40 M455.36 4.30V7.90 M469.92 586.00V582.40 M469.92 4.30V7.90 M484.48 586.00V582.40 M484.48 4.30V7.90 M499.04 586.00V582.40 M499.04 4.30V7.90 M513.60 586.00V579.00 M513.60 4.30V11.30 M528.16 586.00V582.40 M528.16 4.30V7.90 M542.72 586.00V582.40 M542.72 4.30V7.90 M557.28 586.00V582.40 M557.28 4.30V7.90 M571.84 586.00V582.40 M571.84 4.30V7.90 M586.40 586.00V582.40 M586.40 4.30V7.90 M600.96 586.00V582.40 M600.96 4.30V7.90 M615.52 586.00V582.40 M615.52 4.30V7.90 M630.08 586.00V582.40 M630.08 4.30V7.90 M644.64 586.00V582.40 M644.64 4.30V7.90 M659.20 586.00V579.00 M659.20 4.30V11.30 M76.80 586.00H83.80 M659.20 586.00H652.20 M76.80 575.42H80.40 M659.20 575.42H655.60 M76.80 564.85H80.40 M659.20 564.85H655.60 M76.80 554.27H80.40 M659.20 554.27H655.60 M76.80 543.69H80.40 M659.20 543.69H655.60 M76.80 533.12H80.40 M659.20 533.12H655.60 M76.80 522.54H80.40 M659.20 522.54H655.60 M76.80 511.97H80.40 M659.20 511.97H655.60 M76.80 501.39H80.40 M659.20 501.39H655.60 M76.80 490.81H80.40 M659.20 490.81H655.60 M76.80 480.24H83.80 M659.20 480.24H652.20 M76.80 469.66H80.40 M659.20 469.66H655.60 M76.80 459.08H80.40 M659.20 459.08H655.60 M76.80 448.51H80.40 M659.20 448.51H655.60 M76.80 437.93H80.40 M659.20 437.93H655.60 M76.80 427.35H80.40 M659.20 427.35H655.60 M76.80 416.78H80.40 M659.20 416.78H655.60 M76.80 406.20H80.40 M659.20 406.20H655.60 M76.80 395.63H80.40 M659.20 395.63H655.60 M76.80 385.05H80.40 M659.20 385.05H655.60 M76.80 374.47H83.80 M659.20 374.47H652.20 M76.80 363.90H80.40 M659.20 363.90H655.60 M76.80 353.32H80.40 M659.20 353.32H655.60 M76.80 342.74H80.40 M659.20 342.74H655.60 M76.80 332.17H80.40 M659.20 332.17H655.60 M76.80 321.59H80.40 M659.20 321.59H655.60 M76.80 311.01H80.40 M659.20 311.01H655.60 M76.80 300.44H80.40 M659.20 300.44H655.60 M76.80 289.86H80.40 M659.20 289.86H655.60 M76.80 279.29H80.40 M659.20 279.29H655.60 M76.80 268.71H83.80 M659.20 268.71H652.20 M76.80 258.13H80.40 M659.20 258.13H655.60 M76.80 247.56H80.40 M659.20 247.56H655.60 M76.80 236.98H80.40 M659.20 236.98H655.60 M76.80 226.40H80.40 M659.20 226.40H655.60 M76.80 215.83H80.40 M659.20 215.83H655.60 M76.80 205.25H80.40 M659.20 205.25H655.60 M76.80 194.67H80.40 M659.20 194.67H655.60 M76.80 184.10H80.40 M659.20 184.10H655.60 M76.80 173.52H80.40 M659.20 173.52H655.60 M76.80 162.95H83.80 M659.20 162.95H652.20 M76.80 152.37H80.40 M659.20 152.37H655.60 M76.80 141.79H80.40 M659.20 141.79H655.60 M76.80 131.22H80.40 M659.20 131.22H655.60 M76.80 120.64H80.40 M659.20 120.64H655.60 M76.80 110.06H80.40 M659.20 110.06H655.60 M76.80 99.49H80.40 M659.20 99.49H655.60 M76.80 88.91H80.40 M659.20 88.91H655.60 M76.80 78.33H80.40 M659.20 78.33H655.60 M76.80 67.76H80.40 M659.20 67.76H655.60 M76.80 57.18H83.80 M659.20 57.18H652.20 M76.80 46.61H80.40 M659.20 46.61H655.60 M76.80 36.03H80.40 M659.20 36.03H655.60 M76.80 25.45H80.40 M659.20 25.45H655.60 M76.80 14.88H80.40 M659.20 14.88H655.60 M76.80 4.30H80.40 M659.20 4.30H655.60" stroke="#000" stroke-width="2.2" fill="none"/>
<rect x="76.80" y="4.30" width="582.40" height="581.70" fill="none" stroke="#000" stroke-width="2.4"/>
<text x="69.5" y="593.4" font-family="Liberation Serif, serif" font-size="21.5" text-anchor="end" fill="#111">0</text>
<text x="69.5" y="487.6" font-family="Liberation Serif, serif" font-size="21.5" text-anchor="end" fill="#111">4</text>
<text x="69.5" y="381.9" font-family="Liberation Serif, serif" font-size="21.5" text-anchor="end" fill="#111">8</text>
<text x="69.5" y="276.1" font-family="Liberation Serif, serif" font-size="21.5" text-anchor="end" fill="#111">12</text>
<text x="69.5" y="170.3" font-family="Liberation Serif, serif" font-size="21.5" text-anchor="end" fill="#111">16</text>
<text x="69.5" y="64.6" font-family="Liberation Serif, serif" font-size="21.5" text-anchor="end" fill="#111">20</text>
<text x="76.8" y="613" font-family="Liberation Serif, serif" font-size="21" text-anchor="middle" fill="#111">0</text>
<text x="222.4" y="613" font-family="Liberation Serif, serif" font-size="21" text-anchor="middle" fill="#111">0.05</text>
<text x="368.0" y="613" font-family="Liberation Serif, serif" font-size="21" text-anchor="middle" fill="#111">0.1</text>
<text x="513.6" y="613" font-family="Liberation Serif, serif" font-size="21" text-anchor="middle" fill="#111">0.15</text>
<text x="659.2" y="613" font-family="Liberation Serif, serif" font-size="21" text-anchor="middle" fill="#111">0.2</text>
<text x="364" y="647" font-family="Liberation Serif, serif" font-style="italic" font-size="28" text-anchor="middle" fill="#111">&#x3F5;</text>
<g transform="translate(25.5,323) rotate(-90)"><text x="0" y="0" font-family="Liberation Serif, serif" font-size="31" fill="#111"><tspan font-style="italic">&#x3C3;</tspan><tspan>\</tspan><tspan font-style="italic" dx="3">&#x3C3;</tspan><tspan font-size="26" dy="14" dx="1.5">0</tspan></text></g>
<line x1="506.2" y1="34.3" x2="545" y2="34.3" stroke="#0cee0c" stroke-width="1.4"/>
<path d="M525.8 31.9l2.4 2.4-2.4 2.4-2.4-2.4z" fill="#0cee0c"/>
<text x="550" y="44.9" font-family="Liberation Serif, serif" font-size="21" fill="#111">M<tspan font-size="14" dy="-8">e</tspan><tspan dy="8"> = 0.00</tspan></text>
<line x1="506.2" y1="64.8" x2="545" y2="64.8" stroke="#ee00ee" stroke-width="1.4"/>
<path d="M525.8 62.4l2.4 2.4-2.4 2.4-2.4-2.4z" fill="#ee00ee"/>
<text x="550" y="75.4" font-family="Liberation Serif, serif" font-size="21" fill="#111">M<tspan font-size="14" dy="-8">e</tspan><tspan dy="8"> = 0.25</tspan></text>
<line x1="506.2" y1="94.8" x2="545" y2="94.8" stroke="#00f2f0" stroke-width="1.4"/>
<path d="M525.8 92.4l2.4 2.4-2.4 2.4-2.4-2.4z" fill="#00f2f0"/>
<text x="550" y="105.4" font-family="Liberation Serif, serif" font-size="21" fill="#111">M<tspan font-size="14" dy="-8">e</tspan><tspan dy="8"> = 0.50</tspan></text>
<line x1="506.2" y1="125.6" x2="545" y2="125.6" stroke="#0000ee" stroke-width="1.4"/>
<path d="M525.8 123.2l2.4 2.4-2.4 2.4-2.4-2.4z" fill="#0000ee"/>
<text x="550" y="136.2" font-family="Liberation Serif, serif" font-size="21" fill="#111">M<tspan font-size="14" dy="-8">e</tspan><tspan dy="8"> = 0.75</tspan></text>
<line x1="506.2" y1="156.0" x2="545" y2="156.0" stroke="#f00000" stroke-width="1.4"/>
<path d="M525.8 153.6l2.4 2.4-2.4 2.4-2.4-2.4z" fill="#f00000"/>
<text x="550" y="166.6" font-family="Liberation Serif, serif" font-size="21" fill="#111">M<tspan font-size="14" dy="-8">e</tspan><tspan dy="8"> = 1.00</tspan></text>
<line x1="506.2" y1="184.5" x2="545" y2="184.5" stroke="#000" stroke-width="1.4"/>
<path d="M525.8 182.1l2.4 2.4-2.4 2.4-2.4-2.4z" fill="#000"/>
<text x="550" y="192.0" font-family="Liberation Serif, serif" font-size="21" fill="#111">Unnotched</text>
</svg>
</body></html>
